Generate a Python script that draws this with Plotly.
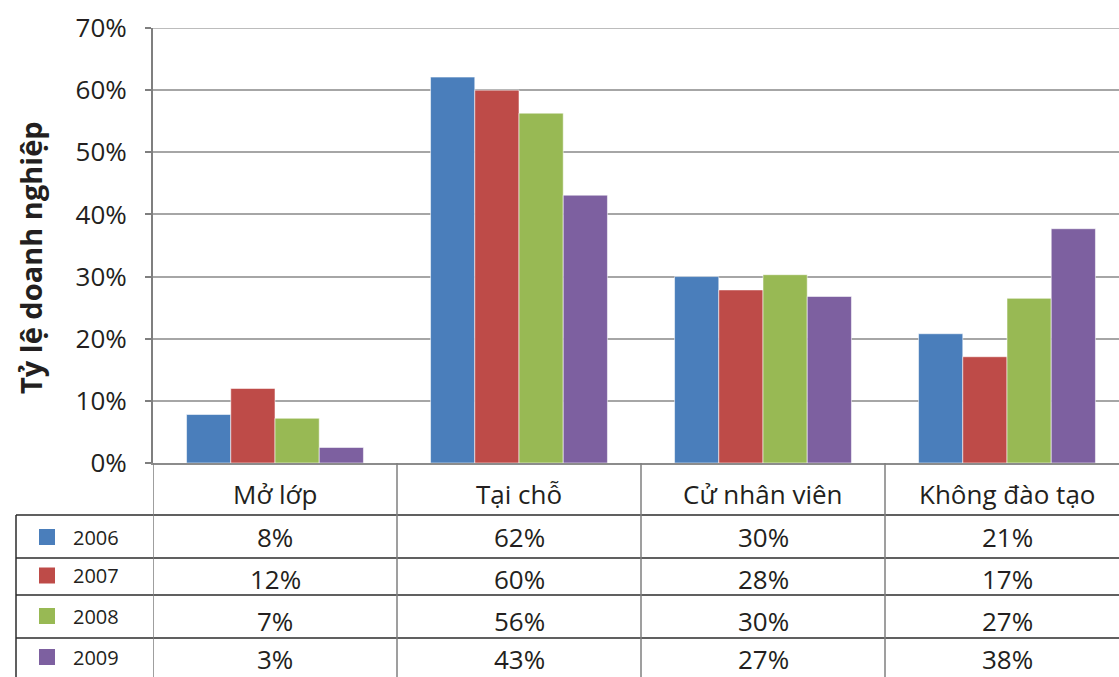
import plotly.graph_objects as go

categories = ["Mở lớp", "Tại chỗ", "Cử nhân viên", "Không đào tạo"]
years = ["2006", "2007", "2008", "2009"]
v2006 = [7.8, 62.1, 30.0, 20.8]
v2007 = [12.0, 60.0, 27.85, 17.1]
v2008 = [7.2, 56.3, 30.3, 26.5]
v2009 = [2.5, 43.1, 26.8, 37.7]
colors = ["#4A7EBB", "#BE4B48", "#98B954", "#7D60A0"]
y_ticks = [0, 10, 20, 30, 40, 50, 60, 70]
y_title = "Tỷ lệ doanh nghiệp"

series = [v2006, v2007, v2008, v2009]

W, H = 1119, 677
L, T, B = 153, 28, 463  # plot area pixel edges
FONT = "Open Sans"
TXT = "#231F20"


def px_x(px):
    return (px - L) / (W - L)


def px_y(py):
    return (B - py) / (B - T)


fig = go.Figure()
for name, vals, c in zip(years, series, colors):
    fig.add_trace(go.Bar(
        x=categories, y=vals, name=name,
        marker=dict(color=c, line=dict(color="rgba(255,255,255,0.55)", width=1)),
        showlegend=False,
    ))

fig.update_layout(
    width=W, height=H,
    margin=dict(l=L, r=0, t=T, b=H - B, pad=0),
    paper_bgcolor="white", plot_bgcolor="white",
    barmode="group", bargap=0.275, bargroupgap=0,
    font=dict(family=FONT, color=TXT, size=26),
    xaxis=dict(
        type="category", range=[-0.5, 3.459],
        showticklabels=False, showgrid=False,
        showline=True, linecolor="#8C8C8C", linewidth=2,
        ticks="", fixedrange=True,
    ),
    yaxis=dict(
        range=[0, 70], tickvals=y_ticks, ticktext=[f"{t}%" for t in y_ticks],
        showgrid=True, gridcolor="#A6A6A6", gridwidth=1.5,
        showline=True, linecolor="#7F7F7F", linewidth=2,
        ticks="outside", ticklen=6, tickcolor="#7F7F7F", tickwidth=1.5,
        ticklabelstandoff=13,
        tickfont=dict(family=FONT, size=26, color=TXT),
        zeroline=False, fixedrange=True,
    ),
)

shapes = []
annotations = []

# top gridline at 70%
shapes.append(dict(type="line", xref="paper", yref="y", x0=0, x1=1, y0=70, y1=70,
                   line=dict(color="#A6A6A6", width=1.5)))

# table lines
row_lines = [515, 558, 595, 638]
for ry in row_lines:
    shapes.append(dict(type="line", xref="paper", yref="paper",
                       x0=px_x(16), x1=1, y0=px_y(ry), y1=px_y(ry),
                       line=dict(color="#2B2B2B", width=1.5)))
# left border
shapes.append(dict(type="line", xref="paper", yref="paper",
                   x0=px_x(16), x1=px_x(16), y0=px_y(515), y1=px_y(H + 2),
                   line=dict(color="#2B2B2B", width=1.5)))
# vertical lines at category boundaries
for i in range(len(categories)):
    shapes.append(dict(type="line", xref="x", yref="paper",
                       x0=i - 0.5, x1=i - 0.5, y0=0, y1=px_y(H + 2),
                       line=dict(color="#7F7F7F", width=1.5)))

# category labels row
for i, cat in enumerate(categories):
    annotations.append(dict(x=i, y=px_y(494), xref="x", yref="paper", text=cat,
                            showarrow=False, xanchor="center", yanchor="middle",
                            font=dict(size=26, family=FONT, color=TXT)))

# rows
row_text_y = [537, 579, 621, 659]
key_y = [537, 575.5, 616, 657]
for r, (name, vals, c) in enumerate(zip(years, series, colors)):
    ky = key_y[r]
    shapes.append(dict(type="rect", xref="paper", yref="paper",
                       x0=px_x(39), x1=px_x(55), y0=px_y(ky - 8), y1=px_y(ky + 8),
                       fillcolor=c, line=dict(width=0)))
    annotations.append(dict(x=px_x(71), y=px_y(ky), xref="paper", yref="paper",
                            text=name, showarrow=False, xanchor="left", yanchor="middle",
                            font=dict(size=20, family=FONT, color=TXT)))
    for i, v in enumerate(vals):
        annotations.append(dict(x=i, y=px_y(row_text_y[r]), xref="x", yref="paper",
                                text=f"{int(v + 0.5)}%", showarrow=False,
                                xanchor="center", yanchor="middle",
                                font=dict(size=26, family=FONT, color=TXT)))

# y axis title
annotations.append(dict(x=px_x(30), y=px_y(258), xref="paper", yref="paper",
                        text=f"<b>{y_title}</b>", textangle=-90, showarrow=False,
                        xanchor="center", yanchor="middle",
                        font=dict(size=29, family=FONT, color=TXT)))

fig.update_layout(shapes=shapes, annotations=annotations)
fig.write_html("out.html")
